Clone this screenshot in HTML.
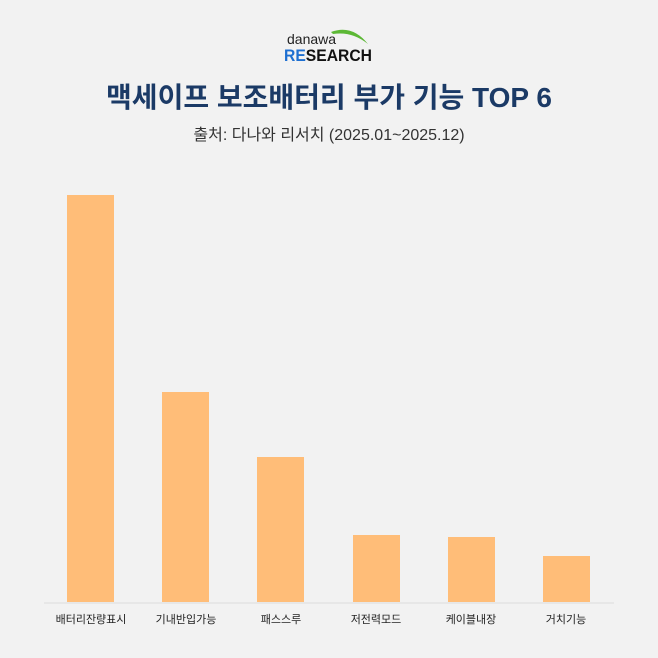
<!DOCTYPE html><html><head><meta charset="utf-8"><style>
body{margin:0;width:658px;height:658px;background:#f2f2f2;position:relative;overflow:hidden;font-family:"Liberation Sans","Noto Sans CJK KR",sans-serif}
.b{position:absolute;background:#ffbd78;width:47px;bottom:56px}
.l{position:absolute;top:611px;width:120px;text-align:center;font-size:11px;color:#222}
</style></head><body>
<svg style="position:absolute;left:0;top:0" width="658" height="658">
<path d="M331 32 Q352 24 368 44 Q352 31 333 34Z" fill="#5cb835"/>
<text x="287" y="44" font-family="Liberation Sans" font-size="14" fill="#222">danawa</text>
<text x="284" y="61" font-family="Liberation Sans" font-weight="bold" font-size="17" fill="#1a3f8f" textLength="88" lengthAdjust="spacingAndGlyphs"><tspan fill="#1d6fd1">RE</tspan><tspan fill="#111">SEARCH</tspan></text>
<line x1="44" y1="603" x2="614" y2="603" stroke="#dcdcdc"/>
</svg>
<div style="position:absolute;top:76px;width:658px;text-align:center;font-size:28px;font-weight:bold;color:#1b3a66">맥세이프 보조배터리 부가 기능 TOP 6</div>
<div style="position:absolute;top:121px;width:658px;text-align:center;font-size:16px;color:#333">출처: 다나와 리서치 (2025.01~2025.12)</div>
<div class="b" style="left:67px;top:195px"></div>
<div class="b" style="left:162px;top:392px"></div>
<div class="b" style="left:257px;top:457px"></div>
<div class="b" style="left:353px;top:535px"></div>
<div class="b" style="left:448px;top:537px"></div>
<div class="b" style="left:543px;top:556px"></div>
<div class="l" style="left:31px">배터리잔량표시</div>
<div class="l" style="left:126px">기내반입가능</div>
<div class="l" style="left:221px">패스스루</div>
<div class="l" style="left:316px">저전력모드</div>
<div class="l" style="left:411px">케이블내장</div>
<div class="l" style="left:506px">거치기능</div>
</body></html>
